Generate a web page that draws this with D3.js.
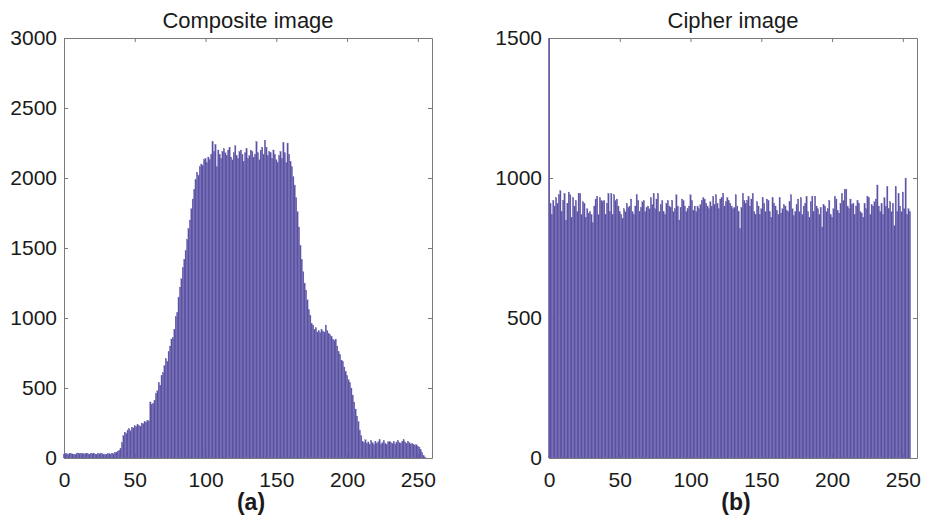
<!DOCTYPE html>
<html lang="en">
<head>
    <meta charset="UTF-8">
    <title>Histograms</title>
    <script src="https://d3js.org/d3.v7.min.js"></script>
    <style>
        body { margin: 0; background: #fff; }
        svg { font-family: "Liberation Sans", Arial, sans-serif; }
        .axis path, .axis line { stroke: #7a7a7a; }
        .title { font-size: 22px; fill: #1a1a1a; }
        .label { font-size: 23px; font-weight: bold; fill: #1a1a1a; }
    </style>
</head>
<body>
    <svg width="930" height="522"></svg>

    <script>
        // composite image histogram, bins 0..255
        const compositeLow = [28,32,30,26,34,31,29,27,25,30, 36,33,31,35,29,32,34,30,28,33,
            31,35,29,27,32,30,34,31,26,24, 28,30,32,27,35,31,38,42,48,55];
        const compositeRise = [70,110,160,185,175,200,210,195,220,215,
            230,225,240,232,228,250,245,262,255,270,
            265,400,385,390,410,460,480,540,520,590,
            610,660,710,690,760,800,850,860,920,1010,
            1040,1150,1220,1280,1360,1420,1480,1560,1640,1700,
            1780,1850,1920,1990,2040,2020,2080,2100,2090,2130];
        const compositePlateau = [2140,2110,2150,2130,2170,2260,2190,2240,2080,2200,
            2170,2140,2190,2210,2180,2160,2200,2220,2150,2130,
            2180,2230,2160,2140,2190,2200,2170,2120,2180,2210,
            2140,2160,2200,2190,2150,2170,2260,2180,2130,2200,
            2220,2170,2270,2220,2160,2190,2180,2140,2200,2170,
            2130,2110,2160,2190,2140,2255,2180,2110,2250,2170,
            2120];
        const compositeFall = [2080,2010,1950,1860,1760,1650,1520,1420,1330,1250,
            1200,1130,1060,1020,960,950,920,930,900,910,
            895,920,905,900,950,910,890,880,870,850,
            840,850,800,760,740,700,690,650,620,590,
            560,540,500,450,400,350,300,260,200,160];
        const compositeTail = [120,110,130,105,115,100,125,110,95,120,
            105,115,130,100,110,125,105,95,115,120,
            110,105,120,100,115,125,110,105,120,130,
            115,105,120,110,100,
            105,98,90,95,85,78,60,40,20,8];
        const composite = [].concat(compositeLow, compositeRise, compositePlateau, compositeFall, compositeTail);

        // cipher image histogram, bins 0..255
        const cipher = [
            1600,910,870,920,900,930,910,940,955,880,920,945,850,910,950,940,
            860,930,900,920,880,945,945,870,915,910,860,890,875,880,870,840,
            900,925,935,870,930,920,915,920,870,910,945,880,945,870,940,920,
            925,900,880,870,855,890,880,910,895,900,925,880,870,900,940,920,
            880,895,915,920,880,895,900,890,930,905,945,890,925,945,880,905,
            920,880,870,910,920,900,895,920,880,890,940,900,850,895,925,920,
            900,880,890,900,940,920,885,900,880,900,890,905,920,930,925,910,
            900,890,915,900,935,905,940,910,890,925,930,945,900,915,930,920,
            910,900,890,895,940,900,880,820,895,945,920,910,920,935,900,925,
            945,880,870,915,900,870,890,930,910,880,925,920,880,860,930,910,
            900,885,870,930,875,890,905,900,885,880,915,940,890,865,880,905,
            925,880,930,870,900,910,935,880,860,915,935,880,935,900,890,870,
            895,825,905,900,880,890,920,870,860,890,935,925,885,875,910,945,
            920,960,960,900,890,925,905,910,870,900,920,910,880,875,860,910,
            890,935,930,870,905,900,915,925,975,900,880,910,870,930,900,970,
            890,915,880,910,830,970,880,945,900,880,950,890,1000,870,890,880
        ];

        const xTicks = [0, 50, 100, 150, 200, 250];
        const panels = [
            { id: "a", title: "Composite image", label: "(a)", values: composite,
              left: 64, right: 432, yMax: 3000, yTicks: [0, 500, 1000, 1500, 2000, 2500, 3000] },
            { id: "b", title: "Cipher image", label: "(b)", values: cipher,
              left: 549, right: 917, yMax: 1500, yTicks: [0, 500, 1000, 1500] }
        ];

        const svg = d3.select("svg");
        const plotTop = 38, plotBottom = 458;
        const fmt = d3.format("d");

        panels.forEach(p => {
            const x = d3.scaleLinear().domain([0, 260]).range([p.left, p.right]);
            const y = d3.scaleLinear().domain([0, p.yMax]).range([plotBottom, plotTop]);
            const g = svg.append("g");

            // clip a touch left of the box so bin 0 shows on the axis line
            g.append("clipPath").attr("id", "clip-" + p.id)
                .append("rect")
                .attr("x", p.left - 1).attr("y", plotTop)
                .attr("width", p.right - p.left + 1).attr("height", plotBottom - plotTop);

            g.append("g").attr("class", "axis")
                .attr("transform", `translate(0,${plotBottom})`)
                .call(d3.axisBottom(x).tickValues(xTicks).tickFormat(fmt).tickSizeInner(-4).tickSizeOuter(0).tickPadding(14));
            g.append("g").attr("class", "axis")
                .attr("transform", `translate(0,${plotTop})`)
                .call(d3.axisTop(x).tickValues(xTicks).tickSizeInner(-4).tickSizeOuter(0).tickFormat(""));
            g.append("g").attr("class", "axis")
                .attr("transform", `translate(${p.left},0)`)
                .call(d3.axisLeft(y).tickValues(p.yTicks).tickFormat(fmt).tickSizeInner(-4).tickSizeOuter(0).tickPadding(7));
            g.append("g").attr("class", "axis")
                .attr("transform", `translate(${p.right},0)`)
                .call(d3.axisRight(y).tickValues(p.yTicks).tickSizeInner(-4).tickSizeOuter(0).tickFormat(""));

            g.selectAll(".axis text").attr("fill", "#1a1a1a").attr("font-size", 21)
                .attr("font-family", "Liberation Sans, Arial, sans-serif");

            const bw = x(1) - x(0);
            g.append("g")
                .attr("clip-path", "url(#clip-" + p.id + ")")
                .selectAll("rect")
                .data(p.values)
                .enter().append("rect")
                .attr("x", (d, i) => x(i) - bw / 2)
                .attr("width", bw)
                .attr("y", d => y(d))
                .attr("height", d => plotBottom - y(d))
                .attr("fill", "#5a51a2")
                .attr("stroke", "#6f68b4")
                .attr("stroke-width", 0.25);

            const cx = (p.left + p.right) / 2;
            g.append("text").attr("class", "title")
                .attr("x", cx).attr("y", 28)
                .attr("text-anchor", "middle")
                .text(p.title);
            g.append("text").attr("class", "label")
                .attr("x", cx + 3).attr("y", 510)
                .attr("text-anchor", "middle")
                .text(p.label);
        });
    </script>
</body>
</html>
